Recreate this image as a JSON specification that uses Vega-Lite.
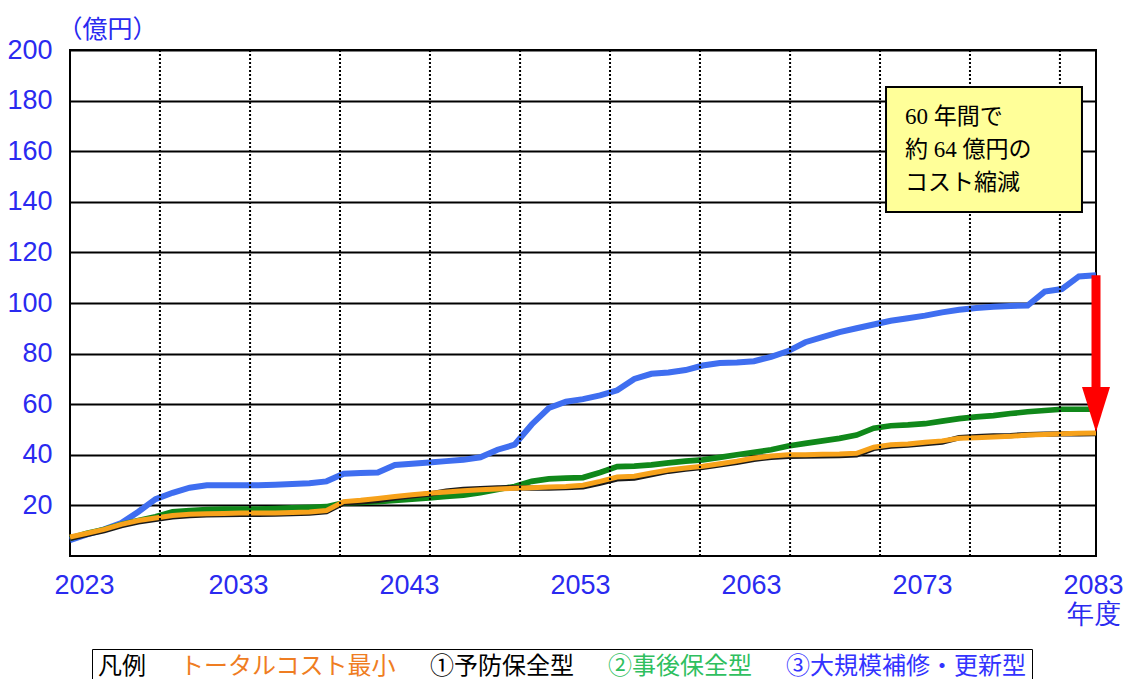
{
  "$schema": "https://vega.github.io/schema/vega-lite/v6.json",
  "width": 1026,
  "height": 506,
  "autosize": {"type": "none"},
  "padding": {"left": 70, "top": 50, "right": 30, "bottom": 123},
  "background": "white",
  "config": {"view": {"stroke": "black", "strokeWidth": 2}, "font": "Noto Sans CJK JP"},
  "datasets": {
    "grid": [{"g": 2028.26}, {"g": 2033.53}, {"g": 2038.79}, {"g": 2044.05}, {"g": 2049.32}, {"g": 2054.58}, {"g": 2059.84}, {"g": 2065.11}, {"g": 2070.37}, {"g": 2075.63}, {"g": 2080.89}],
    "note": [{"note": "60年間で約64億円のコスト縮減"}],
    "cost": [
      {"year": 2023, "トータルコスト最小": 7.5, "①予防保全型": 7, "②事後保全型": 7, "③大規模補修・更新型": 6.3},
      {"year": 2024, "トータルコスト最小": 9, "①予防保全型": 8.5, "②事後保全型": 9, "③大規模補修・更新型": 8.5},
      {"year": 2025, "トータルコスト最小": 10.5, "①予防保全型": 10, "②事後保全型": 10.5, "③大規模補修・更新型": 10.5},
      {"year": 2026, "トータルコスト最小": 12.5, "①予防保全型": 12, "②事後保全型": 12.5, "③大規模補修・更新型": 13},
      {"year": 2027, "トータルコスト最小": 14, "①予防保全型": 13.5, "②事後保全型": 14, "③大規模補修・更新型": 17.5},
      {"year": 2028, "トータルコスト最小": 15, "①予防保全型": 14.5, "②事後保全型": 15.5, "③大規模補修・更新型": 22.5},
      {"year": 2029, "トータルコスト最小": 16, "①予防保全型": 15.5, "②事後保全型": 17.5, "③大規模補修・更新型": 25},
      {"year": 2030, "トータルコスト最小": 16.5, "①予防保全型": 16, "②事後保全型": 18, "③大規模補修・更新型": 27},
      {"year": 2031, "トータルコスト最小": 16.7, "①予防保全型": 16.3, "②事後保全型": 18.3, "③大規模補修・更新型": 28},
      {"year": 2032, "トータルコスト最小": 16.8, "①予防保全型": 16.4, "②事後保全型": 18.5, "③大規模補修・更新型": 28},
      {"year": 2033, "トータルコスト最小": 17, "①予防保全型": 16.5, "②事後保全型": 18.5, "③大規模補修・更新型": 28},
      {"year": 2034, "トータルコスト最小": 17, "①予防保全型": 16.5, "②事後保全型": 18.5, "③大規模補修・更新型": 28},
      {"year": 2035, "トータルコスト最小": 17, "①予防保全型": 16.6, "②事後保全型": 18.7, "③大規模補修・更新型": 28.2},
      {"year": 2036, "トータルコスト最小": 17.2, "①予防保全型": 16.8, "②事後保全型": 19, "③大規模補修・更新型": 28.5},
      {"year": 2037, "トータルコスト最小": 17.4, "①予防保全型": 17, "②事後保全型": 19.2, "③大規模補修・更新型": 28.8},
      {"year": 2038, "トータルコスト最小": 18, "①予防保全型": 17.5, "②事後保全型": 19.5, "③大規模補修・更新型": 29.5},
      {"year": 2039, "トータルコスト最小": 21.5, "①予防保全型": 21, "②事後保全型": 21, "③大規模補修・更新型": 32.5},
      {"year": 2040, "トータルコスト最小": 22, "①予防保全型": 21.4, "②事後保全型": 21.2, "③大規模補修・更新型": 32.8},
      {"year": 2041, "トータルコスト最小": 22.7, "①予防保全型": 22, "②事後保全型": 21.5, "③大規模補修・更新型": 33},
      {"year": 2042, "トータルコスト最小": 23.5, "①予防保全型": 23, "②事後保全型": 22, "③大規模補修・更新型": 36},
      {"year": 2043, "トータルコスト最小": 24.2, "①予防保全型": 23.8, "②事後保全型": 22.5, "③大規模補修・更新型": 36.5},
      {"year": 2044, "トータルコスト最小": 24.8, "①予防保全型": 24.5, "②事後保全型": 23, "③大規模補修・更新型": 37},
      {"year": 2045, "トータルコスト最小": 25.3, "①予防保全型": 25.6, "②事後保全型": 23.5, "③大規模補修・更新型": 37.5},
      {"year": 2046, "トータルコスト最小": 25.8, "①予防保全型": 26.3, "②事後保全型": 24, "③大規模補修・更新型": 38},
      {"year": 2047, "トータルコスト最小": 26.2, "①予防保全型": 26.6, "②事後保全型": 25, "③大規模補修・更新型": 39},
      {"year": 2048, "トータルコスト最小": 26.5, "①予防保全型": 26.9, "②事後保全型": 26.3, "③大規模補修・更新型": 42},
      {"year": 2049, "トータルコスト最小": 26.8, "①予防保全型": 27, "②事後保全型": 27.5, "③大規模補修・更新型": 44},
      {"year": 2050, "トータルコスト最小": 27, "①予防保全型": 26.8, "②事後保全型": 29.5, "③大規模補修・更新型": 52},
      {"year": 2051, "トータルコスト最小": 27.3, "①予防保全型": 26.8, "②事後保全型": 30.5, "③大規模補修・更新型": 58.5},
      {"year": 2052, "トータルコスト最小": 27.5, "①予防保全型": 27, "②事後保全型": 30.8, "③大規模補修・更新型": 61},
      {"year": 2053, "トータルコスト最小": 28, "①予防保全型": 27.3, "②事後保全型": 31, "③大規模補修・更新型": 62},
      {"year": 2054, "トータルコスト最小": 29.5, "①予防保全型": 28.8, "②事後保全型": 33, "③大規模補修・更新型": 63.5},
      {"year": 2055, "トータルコスト最小": 31.2, "①予防保全型": 30.5, "②事後保全型": 35.3, "③大規模補修・更新型": 65.5},
      {"year": 2056, "トータルコスト最小": 31.5, "①予防保全型": 30.8, "②事後保全型": 35.5, "③大規模補修・更新型": 70},
      {"year": 2057, "トータルコスト最小": 32.8, "①予防保全型": 32.2, "②事後保全型": 36, "③大規模補修・更新型": 72},
      {"year": 2058, "トータルコスト最小": 34, "①予防保全型": 33.5, "②事後保全型": 36.8, "③大規模補修・更新型": 72.5},
      {"year": 2059, "トータルコスト最小": 34.8, "①予防保全型": 34.3, "②事後保全型": 37.5, "③大規模補修・更新型": 73.5},
      {"year": 2060, "トータルコスト最小": 35.5, "①予防保全型": 35, "②事後保全型": 38, "③大規模補修・更新型": 75.3},
      {"year": 2061, "トータルコスト最小": 36.5, "①予防保全型": 36, "②事後保全型": 39, "③大規模補修・更新型": 76.3},
      {"year": 2062, "トータルコスト最小": 37.5, "①予防保全型": 37, "②事後保全型": 40, "③大規模補修・更新型": 76.5},
      {"year": 2063, "トータルコスト最小": 38.7, "①予防保全型": 38.2, "②事後保全型": 41, "③大規模補修・更新型": 77},
      {"year": 2064, "トータルコスト最小": 39.5, "①予防保全型": 39, "②事後保全型": 42, "③大規模補修・更新型": 78.7},
      {"year": 2065, "トータルコスト最小": 40, "①予防保全型": 39.4, "②事後保全型": 43.5, "③大規模補修・更新型": 81},
      {"year": 2066, "トータルコスト最小": 40, "①予防保全型": 39.5, "②事後保全型": 44.5, "③大規模補修・更新型": 84.5},
      {"year": 2067, "トータルコスト最小": 40.2, "①予防保全型": 39.6, "②事後保全型": 45.5, "③大規模補修・更新型": 86.5},
      {"year": 2068, "トータルコスト最小": 40.3, "①予防保全型": 39.7, "②事後保全型": 46.5, "③大規模補修・更新型": 88.5},
      {"year": 2069, "トータルコスト最小": 40.6, "①予防保全型": 40, "②事後保全型": 47.8, "③大規模補修・更新型": 90},
      {"year": 2070, "トータルコスト最小": 43, "①予防保全型": 42.5, "②事後保全型": 50.5, "③大規模補修・更新型": 91.5},
      {"year": 2071, "トータルコスト最小": 44, "①予防保全型": 43.4, "②事後保全型": 51.5, "③大規模補修・更新型": 93},
      {"year": 2072, "トータルコスト最小": 44.3, "①予防保全型": 43.8, "②事後保全型": 51.8, "③大規模補修・更新型": 94},
      {"year": 2073, "トータルコスト最小": 45, "①予防保全型": 44.4, "②事後保全型": 52.3, "③大規模補修・更新型": 95},
      {"year": 2074, "トータルコスト最小": 45.5, "①予防保全型": 45, "②事後保全型": 53.3, "③大規模補修・更新型": 96.3},
      {"year": 2075, "トータルコスト最小": 46.5, "①予防保全型": 46.8, "②事後保全型": 54.3, "③大規模補修・更新型": 97.3},
      {"year": 2076, "トータルコスト最小": 46.7, "①予防保全型": 47.2, "②事後保全型": 55, "③大規模補修・更新型": 98},
      {"year": 2077, "トータルコスト最小": 47, "①予防保全型": 47.5, "②事後保全型": 55.5, "③大規模補修・更新型": 98.5},
      {"year": 2078, "トータルコスト最小": 47.3, "①予防保全型": 47.6, "②事後保全型": 56.3, "③大規模補修・更新型": 98.8},
      {"year": 2079, "トータルコスト最小": 47.8, "①予防保全型": 48, "②事後保全型": 57, "③大規模補修・更新型": 99},
      {"year": 2080, "トータルコスト最小": 48, "①予防保全型": 48.2, "②事後保全型": 57.5, "③大規模補修・更新型": 104.5},
      {"year": 2081, "トータルコスト最小": 48.3, "①予防保全型": 48.3, "②事後保全型": 58, "③大規模補修・更新型": 105.5},
      {"year": 2082, "トータルコスト最小": 48.5, "①予防保全型": 48.3, "②事後保全型": 58, "③大規模補修・更新型": 110.5},
      {"year": 2083, "トータルコスト最小": 48.6, "①予防保全型": 48.4, "②事後保全型": 58, "③大規模補修・更新型": 111}
    ]
  },
  "layer": [
    {
      "data": {"name": "cost"},
      "transform": [{"fold": ["③大規模補修・更新型", "②事後保全型", "①予防保全型", "トータルコスト最小"], "as": ["series", "value"]}],
      "mark": {"type": "line", "clip": false},
      "encoding": {
        "x": {
          "field": "year", "type": "quantitative",
          "scale": {"domain": [2023, 2083], "nice": false, "zero": false},
          "axis": {
            "values": [2023, 2033, 2043, 2053, 2063, 2073, 2083],
            "title": null, "grid": false, "ticks": false, "domain": false, "format": "d",
            "labelFont": "Liberation Sans Narrow, Liberation Sans", "labelFontSize": 27, "labelColor": "#2a2af0",
            "labelPadding": 16,
            "labelOffset": {"condition": {"test": "datum.value === 2023", "value": 14}, "value": -3},
            "labelExpr": "datum.value === 2083 ? ['2083', '年度'] : datum.label",
            "labelLineHeight": 29, "labelFlush": false, "labelOverlap": false
          }
        },
        "y": {
          "field": "value", "type": "quantitative",
          "scale": {"domain": [0, 200], "nice": false, "zero": true},
          "axis": {
            "values": [20, 40, 60, 80, 100, 120, 140, 160, 180, 200],
            "grid": true, "gridColor": "black", "gridWidth": 2, "gridOpacity": 1,
            "ticks": false, "domain": false,
            "labelFont": "Liberation Sans Narrow, Liberation Sans", "labelFontSize": 27, "labelColor": "#2a2af0",
            "labelPadding": 18,
            "title": "（億円）", "titleAngle": 0, "titleAlign": "left", "titleBaseline": "middle",
            "titleX": -13, "titleY": -21, "titleColor": "#2a2af0", "titleFont": "Noto Sans CJK JP",
            "titleFontSize": 25, "titleFontWeight": "normal"
          }
        },
        "color": {
          "field": "series", "type": "nominal",
          "scale": {
            "domain": ["トータルコスト最小", "①予防保全型", "②事後保全型", "③大規模補修・更新型"],
            "range": ["#f7a21b", "#1a1a1a", "#10881a", "#3f6ef0"]
          },
          "legend": {
            "title": "凡例", "orient": "none", "legendX": 22, "legendY": 599,
            "direction": "horizontal", "titleOrient": "left", "titleFont": "Noto Sans CJK JP",
            "titleFontSize": 24, "titleFontWeight": "normal", "titleColor": "black", "titlePadding": 10,
            "titleBaseline": "middle",
            "labelFont": "Noto Sans CJK JP", "labelFontSize": 24, "labelLimit": 400,
            "symbolSize": 0, "symbolStrokeWidth": 0, "symbolOpacity": 0, "symbolType": "circle",
            "labelOffset": 0, "columnPadding": 10, "strokeColor": "black", "padding": 6,
            "fillColor": "white",
            "encode": {"labels": {"update": {"fill": {"signal": "datum.value === 'トータルコスト最小' ? '#ef7d22' : datum.value === '②事後保全型' ? '#2fbf5f' : datum.value === '③大規模補修・更新型' ? '#3333ff' : '#000000'"}}}}
          }
        },
        "strokeWidth": {
          "field": "series", "type": "nominal",
          "scale": {"domain": ["トータルコスト最小", "①予防保全型", "②事後保全型", "③大規模補修・更新型"], "range": [5, 6, 7, 7]},
          "legend": null
        }
      }
    },
    {
      "data": {"name": "grid"},
      "mark": {"type": "rule", "color": "black", "strokeDash": [2, 2], "strokeWidth": 2},
      "encoding": {
        "x": {"field": "g", "type": "quantitative", "scale": {"domain": [2023, 2083], "nice": false, "zero": false}}
      }
    },
    {
      "data": {"name": "note"},
      "mark": {"type": "rect", "fill": "#ffff99", "stroke": "black", "strokeWidth": 2},
      "encoding": {
        "x": {"datum": 2070.72, "type": "quantitative", "scale": {"domain": [2023, 2083], "nice": false, "zero": false}},
        "x2": {"datum": 2082.18},
        "y": {"datum": 185.4, "type": "quantitative", "scale": {"domain": [0, 200], "nice": false}},
        "y2": {"datum": 136.0}
      }
    },
    {
      "data": {"name": "note"},
      "mark": {"type": "text", "align": "left", "baseline": "middle", "font": "Liberation Serif, Noto Sans CJK JP", "fontSize": 23, "lineHeight": 33, "color": "black"},
      "encoding": {
        "x": {"datum": 2071.83, "type": "quantitative", "scale": {"domain": [2023, 2083], "nice": false, "zero": false}},
        "y": {"datum": 173.5, "type": "quantitative", "scale": {"domain": [0, 200], "nice": false}},
        "text": {"value": ["60 年間で", "約 64 億円の", "コスト縮減"]}
      }
    },
    {
      "data": {"name": "note"},
      "mark": {"type": "rule", "color": "#ff0000", "strokeWidth": 9},
      "encoding": {
        "x": {"datum": 2083, "type": "quantitative", "scale": {"domain": [2023, 2083], "nice": false, "zero": false}},
        "y": {"datum": 111, "type": "quantitative", "scale": {"domain": [0, 200], "nice": false}},
        "y2": {"datum": 66.5}
      }
    },
    {
      "data": {"name": "note"},
      "mark": {"type": "point", "shape": "M-0.622,-1L0.622,-1L0,1Z", "size": 2025, "filled": true, "fill": "#ff0000", "opacity": 1, "strokeWidth": 0},
      "encoding": {
        "x": {"datum": 2083, "type": "quantitative", "scale": {"domain": [2023, 2083], "nice": false, "zero": false}},
        "y": {"datum": 57.9, "type": "quantitative", "scale": {"domain": [0, 200], "nice": false}}
      }
    }
  ]
}
